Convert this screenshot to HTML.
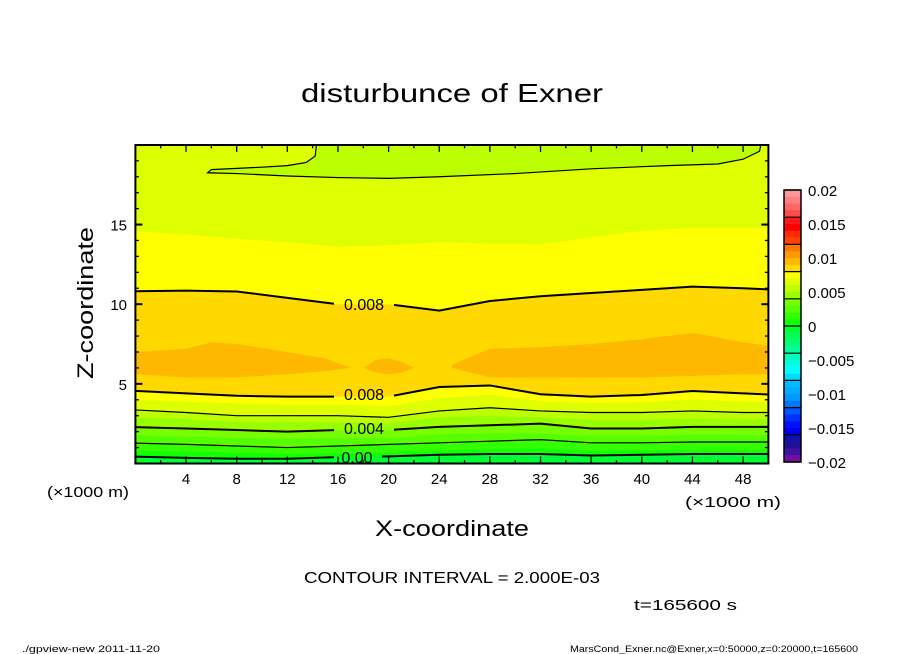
<!DOCTYPE html>
<html><head><meta charset="utf-8"><style>
html,body{margin:0;padding:0;background:#fff;}
svg{display:block;font-family:"Liberation Sans",sans-serif;}
</style></head><body>
<svg id="chart" width="904" height="654" viewBox="0 0 904 654">
<defs>
 <clipPath id="plotclip"><rect x="135.4" y="145" width="633" height="318.5"/></clipPath>
 <mask id="labelmask" maskUnits="userSpaceOnUse" x="0" y="0" width="904" height="654">
  <rect x="0" y="0" width="904" height="654" fill="#fff"/>
  <rect x="334" y="294" width="60" height="20" fill="#000"/>
  <rect x="334" y="384" width="60" height="20" fill="#000"/>
  <rect x="334" y="418" width="60" height="20" fill="#000"/>
  <rect x="334" y="448" width="48" height="20" fill="#000"/>
 </mask>
</defs>
<g id="fills" clip-path="url(#plotclip)"></g>
<g id="lines" clip-path="url(#plotclip)" mask="url(#labelmask)"></g>
<g id="labels" font-size="16" fill="#000">
 <text x="364" y="310" text-anchor="middle">0.008</text>
 <text x="364" y="400" text-anchor="middle">0.008</text>
 <text x="364" y="434" text-anchor="middle">0.004</text>
 <text x="357" y="463" text-anchor="middle">0.00</text>
</g>
<rect x="135.4" y="145" width="633" height="318.5" fill="none" stroke="#000" stroke-width="2"/>
<g id="ticks"></g>
<g id="ticklabels" font-size="15" fill="#000"></g>
<g id="cbar"></g>
<text x="452" y="102" text-anchor="middle" font-size="26" textLength="302" lengthAdjust="spacingAndGlyphs">disturbunce of Exner</text>
<text transform="translate(93,303) rotate(-90)" text-anchor="middle" font-size="22" textLength="152" lengthAdjust="spacingAndGlyphs">Z-coordinate</text>
<text x="452" y="536" text-anchor="middle" font-size="22" textLength="154" lengthAdjust="spacingAndGlyphs">X-coordinate</text>
<text x="47" y="497" font-size="15" textLength="82" lengthAdjust="spacingAndGlyphs">(×1000 m)</text>
<text x="685" y="507" font-size="15" textLength="96" lengthAdjust="spacingAndGlyphs">(×1000 m)</text>
<text x="452" y="583" text-anchor="middle" font-size="16" textLength="296" lengthAdjust="spacingAndGlyphs">CONTOUR INTERVAL = 2.000E-03</text>
<text x="634" y="610" font-size="15" textLength="103" lengthAdjust="spacingAndGlyphs">t=165600 s</text>
<text x="22" y="652" font-size="9" textLength="138" lengthAdjust="spacingAndGlyphs">./gpview-new  2011-11-20</text>
<text x="570" y="652" font-size="9" textLength="288" lengthAdjust="spacingAndGlyphs">MarsCond_Exner.nc@Exner,x=0:50000,z=0:20000,t=165600</text>
</svg>
<script>
// ---- data ----
const xGrid = [0,4,8,12,16,20,24,28,32,36,40,44,48,50];
const L007top = [14.6,14.4,14.1,13.9,13.6,13.7,13.9,13.8,13.75,14.2,14.6,14.8,14.8,14.8];
const L008up = [10.8,10.85,10.8,10.4,10.0,10.0,9.6,10.2,10.5,10.7,10.9,11.1,11.0,10.9];
const L008lo = [4.6,4.4,4.25,4.2,4.2,4.2,4.8,4.9,4.35,4.2,4.3,4.55,4.4,4.3];
const L007 = [4.0,3.9,3.75,3.7,3.7,3.6,4.1,4.3,3.9,3.8,3.85,4.0,3.9,3.85];
const L006 = [3.4,3.2,3.0,3.0,3.0,2.9,3.3,3.5,3.3,3.2,3.2,3.3,3.2,3.2];
const L005 = [2.9,2.8,2.6,2.6,2.6,2.5,2.9,3.0,2.9,2.75,2.75,2.8,2.75,2.75];
const L004 = [2.3,2.2,2.1,2.0,2.1,2.1,2.3,2.4,2.5,2.2,2.2,2.3,2.3,2.3];
const L003 = [1.8,1.7,1.6,1.55,1.6,1.6,1.8,1.9,1.9,1.7,1.7,1.8,1.8,1.8];
const L002 = [1.3,1.2,1.1,1.0,1.1,1.2,1.3,1.4,1.5,1.3,1.3,1.35,1.35,1.35];
const L001 = [0.8,0.75,0.65,0.6,0.65,0.7,0.8,0.9,0.95,0.8,0.8,0.85,0.85,0.85];
const L000 = [0.45,0.35,0.3,0.3,0.4,0.45,0.55,0.6,0.6,0.5,0.55,0.6,0.6,0.6];
const blobLeftX = [-1,0,4,6,8,12,15,17];
const blobLeftTop = [7.0,7.0,7.2,7.6,7.5,7.0,6.6,6.0];
const blobLeftBot = [5.6,5.6,5.4,5.4,5.4,5.6,5.8,6.0];
const blobMidX = [18,19,20,21,22];
const blobMidTop = [6.0,6.5,6.6,6.4,6.0];
const blobMidBot = [6.0,5.7,5.6,5.7,6.0];
const blobRightX = [25,28,32,36,40,44,48,51];
const blobRightTop = [6.2,7.2,7.3,7.5,7.8,8.2,7.6,7.3];
const blobRightBot = [6.0,5.4,5.4,5.4,5.4,5.5,5.6,5.6];
const tongueX = [14.3,14.2,13.5,12,10,6,5.7,8,12,16,20,24,30,36,42,46,48,49.3,49.4];
const tongueZ = [20,19.3,18.9,18.7,18.6,18.45,18.25,18.2,18.05,17.95,17.9,18.0,18.2,18.5,18.7,18.8,19.1,19.6,20];
const xTicks = [4,8,12,16,20,24,28,32,36,40,44,48];
const zTicks = [5,10,15];
const cbarLabels = ["0.02","0.015","0.01","0.005","0","-0.005","-0.01","-0.015","-0.02"];
const cbarValues = [0.02,0.015,0.01,0.005,0,-0.005,-0.01,-0.015,-0.02];
const cbarColors = ["#ff9999","#ff8080","#ff6666","#ff4c4c","#ff1a1a","#ff0000","#ff2a00","#ff4400",
 "#ff7700","#ff9900","#ffb800","#ffd800","#ffff00","#ddff00","#bbff00","#99ff00",
 "#77ff00","#55ff00","#33ff00","#11ff00","#00ff33","#00ff55","#00ff77","#00ff99",
 "#00ffbb","#00ffdd","#00ffff","#00ddff","#00bbff","#00aaff","#0099ff","#0077ff",
 "#0055ff","#0033ff","#0011ff","#0000ee","#1010aa","#201099","#4010a0","#7010a0"];

// ---- scales ----
const NS = "http://www.w3.org/2000/svg";
function sx(x){return 135.4 + x*12.66;}
function sz(z){return 463.5 - z*15.93;}
function mk(tag, parent){const e=document.createElementNS(NS,tag);parent.appendChild(e);return e;}
function below(arr){
  let d = "M"+sx(-1)+","+sz(-1);
  xGrid.forEach((x,i)=>{ d += " L"+sx(i===0?-1:(i===xGrid.length-1?51:x))+","+sz(arr[i]); });
  d += " L"+sx(51)+","+sz(-1)+" Z";
  return d;
}
function linePath(xs, zs){
  return xs.map((x,i)=>(i?"L":"M")+sx(x)+","+sz(zs[i])).join(" ");
}
function blob(xs, top, bot){
  let d = linePath(xs, top);
  for(let i=xs.length-1;i>=0;i--) d += " L"+sx(xs[i])+","+sz(bot[i]);
  return d+" Z";
}
const fills = document.getElementById('fills');
const bg = mk('rect', fills);
bg.setAttribute('x',130); bg.setAttribute('y',140); bg.setAttribute('width',650); bg.setAttribute('height',330); bg.setAttribute('fill','#ddff00');


const bands = [[L007top,'#ffff00','band-0.007-0.008-upper'],[L008up,'#ffd800','band-0.008-0.009'],[L008lo,'#ffff00','band-0.007-0.008-lower'],
 [L007,'#ddff00','band-0.006-0.007'],[L006,'#bbff00','band-0.005-0.006'],[L005,'#99ff00','band-0.004-0.005'],
 [L004,'#77ff00','band-0.003-0.004'],[L003,'#55ff00','band-0.002-0.003'],[L002,'#33ff00','band-0.001-0.002'],
 [L001,'#11ff00','band-0.000-0.001'],[L000,'#00ff33','band-below-0']];
bands.forEach(b=>{
  const p = mk('path', fills);
  p.setAttribute('d', below(b[0])); p.setAttribute('fill', b[1]);
  
  
});
[[blobLeftX,blobLeftTop,blobLeftBot,'band-0.009-left'],[blobMidX,blobMidTop,blobMidBot,'band-0.009-mid'],[blobRightX,blobRightTop,blobRightBot,'band-0.009-right']].forEach(b=>{
  const p = mk('path', fills);
  p.setAttribute('d', blob(b[0],b[1],b[2])); p.setAttribute('fill','#ffb800');
  p.setAttribute('stroke-linejoin','round');
  
  
});
const tongue = mk('path', fills);
tongue.setAttribute('d', linePath(tongueX, tongueZ)+" Z"); tongue.setAttribute('fill','#bbff00');



// contour lines
const lines = document.getElementById('lines');
const lineDefs = [[L008up,2,'contour-0.008-upper'],[L008lo,2,'contour-0.008-lower'],[L006,1.2,'contour-0.006'],
 [L004,2,'contour-0.004'],[L002,1.2,'contour-0.002'],[L000,2,'contour-0.000']];
const xExt = xGrid.map((x,i)=>i===0?-1:(i===xGrid.length-1?51:x));
lineDefs.forEach(l=>{
  const p = mk('path', lines);
  p.setAttribute('d', linePath(xExt, l[0])); p.setAttribute('fill','none'); p.setAttribute('stroke','#000'); p.setAttribute('stroke-width', l[1]);
  
  
});
const tl = mk('path', lines);
tl.setAttribute('d', linePath(tongueX, tongueZ)); tl.setAttribute('fill','none'); tl.setAttribute('stroke','#000'); tl.setAttribute('stroke-width',1.2);



// ticks
const ticks = document.getElementById('ticks');
function tick(x1,y1,x2,y2,w){const t=mk('line',ticks);t.setAttribute('x1',x1);t.setAttribute('y1',y1);t.setAttribute('x2',x2);t.setAttribute('y2',y2);t.setAttribute('stroke','#000');t.setAttribute('stroke-width',w);
  
  }
for(let x=2;x<50;x+=2){
  const major = x%4===0, L = major?7:3.5;
  tick(sx(x),sz(0),sx(x),sz(0)-L,1.3); tick(sx(x),sz(20),sx(x),sz(20)+L,1.3);
}
for(let z=1;z<20;z++){
  const major = z%5===0, L = major?7:3.5;
  tick(sx(0),sz(z),sx(0)+L,sz(z),major?2:1.3); tick(sx(50),sz(z),sx(50)-L,sz(z),major?2:1.3);
}
const tlab = document.getElementById('ticklabels');
xTicks.forEach(v=>{
  const t = mk('text', tlab); t.textContent = v; t.setAttribute('x', sx(v)); t.setAttribute('y', 484); t.setAttribute('text-anchor','middle');
  
  
});
zTicks.forEach(v=>{
  const t = mk('text', tlab); t.textContent = v; t.setAttribute('x', 127); t.setAttribute('y', sz(v)+6); t.setAttribute('text-anchor','end');
  
  
});

// colorbar
const cb = document.getElementById('cbar');
const cTop = 190, cBot = 462, cX = 784, cW = 17;
function cy(v){return cTop + (0.02 - v)/0.04*(cBot-cTop);}
cbarColors.forEach((c,i)=>{
  const r = mk('rect', cb); const v = 0.02 - i*0.001;
  r.setAttribute('x',cX); r.setAttribute('y',cy(v)); r.setAttribute('width',cW); r.setAttribute('height',cy(v-0.001)-cy(v)+0.3); r.setAttribute('fill',c);
  
  
});
for(let i=0;i<=40;i+=4){
  const v = 0.02 - i*0.001; const l = mk('line', cb);
  l.setAttribute('x1',cX); l.setAttribute('x2',cX+cW); l.setAttribute('y1',cy(v)); l.setAttribute('y2',cy(v)); l.setAttribute('stroke','#000'); l.setAttribute('stroke-width',1.2);
  
  
}
const cf = mk('rect', cb);
cf.setAttribute('x',cX); cf.setAttribute('y',cTop); cf.setAttribute('width',cW); cf.setAttribute('height',cBot-cTop); cf.setAttribute('fill','none'); cf.setAttribute('stroke','#000'); cf.setAttribute('stroke-width',1.5);


cbarLabels.forEach((s,i)=>{
  const t = mk('text', cb); t.textContent = s.replace('-', '\u2212');
  t.setAttribute('x', 808); t.setAttribute('y', cy(cbarValues[i])+6); t.setAttribute('font-size',15);
  
  
});
</script>
</body></html>
